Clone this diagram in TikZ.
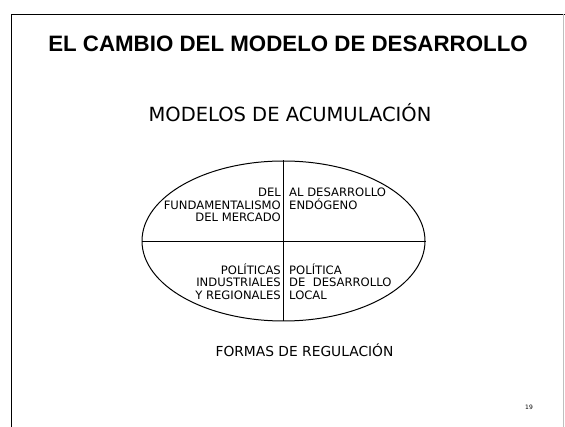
\documentclass[tikz,border=0pt]{standalone}
\usepackage{fontspec}
\setmainfont{DejaVu Sans}
\newfontfamily\titlefont{Liberation Sans}
\usetikzlibrary{shapes.geometric}
\begin{document}
\begin{tikzpicture}[x=1pt,y=-1pt,
  quad/.style={inner sep=0pt,font=\fontsize{11.6}{12.6}\selectfont},
  frame/.style={line width=1.4pt}]
\useasboundingbox (0,0) rectangle (565,427);
% slide frame
\draw[frame] (11.5,427) -- (11.5,14.5) -- (565,14.5);
\draw[gray!50,line width=0.6pt] (563.5,14.5) -- (563.5,427);
% title
\node[inner sep=0pt,font=\titlefont\bfseries\fontsize{22.3}{25}\selectfont] (title) at (288,44) {EL CAMBIO DEL MODELO DE DESARROLLO};
\node[inner sep=0pt,font=\fontsize{19.5}{22}\selectfont] (modelos) at (290,113) {MODELOS DE ACUMULACIÓN};
% ellipse
\node[ellipse,draw,line width=1pt,minimum width=283pt,minimum height=160pt,inner sep=0pt] (ell) at (283.5,241) {};
\draw[line width=0.9pt] (ell.north) -- (ell.south);
\draw[line width=0.9pt] (ell.west) -- (ell.east);
% quadrant texts
\node[quad,anchor=east,align=right] (tl) at (281,205) {DEL\\FUNDAMENTALISMO\\DEL MERCADO};
\node[quad,anchor=north west,align=left] (tr) at (289,188) {AL DESARROLLO\\ENDÓGENO};
\node[quad,anchor=east,align=right] (bl) at (281,281.5) {POLÍTICAS\\INDUSTRIALES\\Y REGIONALES};
\node[quad,anchor=west,align=left] (br) at (289,281.5) {POLÍTICA\\DE\ \ DESARROLLO\\LOCAL};
% bottom label
\node[inner sep=0pt,font=\fontsize{13.8}{16}\selectfont] (formas) at (304.5,350) {FORMAS DE REGULACIÓN};
\node[inner sep=0pt,font=\fontsize{6}{7}\selectfont] (page) at (529,407) {19};
\end{tikzpicture}
\end{document}
